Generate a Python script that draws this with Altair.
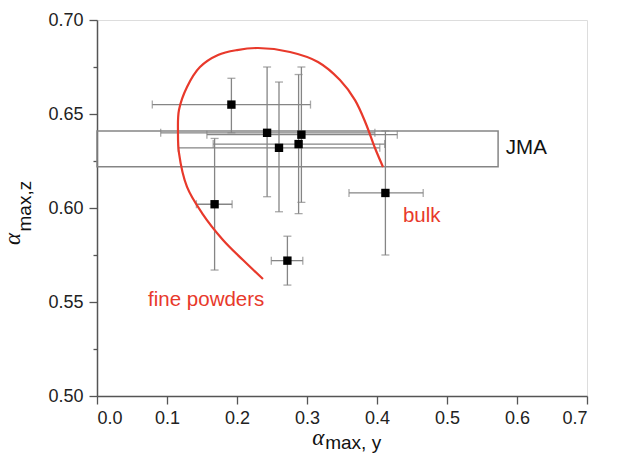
import altair as alt
import pandas as pd

# ---- data ----
px = [0.192, 0.243, 0.260, 0.288, 0.292, 0.168, 0.272, 0.412]
py = [0.655, 0.640, 0.632, 0.634, 0.639, 0.602, 0.572, 0.608]
x_lo = [0.079, 0.091, 0.116, 0.166, 0.157, 0.142, 0.249, 0.360]
x_hi = [0.305, 0.397, 0.404, 0.411, 0.429, 0.193, 0.294, 0.466]
y_lo = [0.640, 0.606, 0.598, 0.597, 0.603, 0.567, 0.559, 0.575]
y_hi = [0.669, 0.675, 0.667, 0.671, 0.675, 0.637, 0.585, 0.641]

curve_x = [0.2371, 0.2086, 0.1800, 0.1500, 0.1286, 0.1171, 0.1157, 0.1171, 0.1286, 0.1471,
           0.1729, 0.2000, 0.2300, 0.2757, 0.3157, 0.3471, 0.3686, 0.3843, 0.3971, 0.4086]
curve_y = [0.5622, 0.5723, 0.5830, 0.5973, 0.6112, 0.6293, 0.6404, 0.6521, 0.6644, 0.6750,
           0.6814, 0.6840, 0.6851, 0.6830, 0.6777, 0.6681, 0.6574, 0.6447, 0.6319, 0.6218]

jma_x = [0.0, 0.573]
jma_y = [0.622, 0.641]

x_ticks = [0.0, 0.05, 0.1, 0.15, 0.2, 0.25, 0.3, 0.35, 0.4, 0.45, 0.5, 0.55, 0.6, 0.65, 0.7]
y_ticks = [0.5, 0.525, 0.55, 0.575, 0.6, 0.625, 0.65, 0.675, 0.7]

left_text = ["JMA", "bulk"]
left_x = [0.584, 0.437]
left_y = [0.632, 0.596]
left_color = ["#111111", "#e8392b"]
center_text = ["fine powders"]
center_x = [0.156]
center_y = [0.551]

# ---- tables ----
pts = pd.DataFrame({"x": px, "y": py, "xlo": x_lo, "xhi": x_hi, "ylo": y_lo, "yhi": y_hi})
curve = pd.DataFrame({"x": curve_x, "y": curve_y, "o": list(range(len(curve_x)))})
box = pd.DataFrame({"x": [jma_x[0]], "x2": [jma_x[1]], "y": [jma_y[0]], "y2": [jma_y[1]]})
ann_l = pd.DataFrame({"t": left_text, "x": left_x, "y": left_y, "c": left_color})
ann_c = pd.DataFrame({"t": center_text, "x": center_x, "y": center_y})

GRAY = "#858585"
RED = "#e8392b"
FONT = "Liberation Sans"

xs = alt.Scale(domain=[0, 0.7], nice=False, zero=False)
ys = alt.Scale(domain=[0.5, 0.7], nice=False, zero=False)

x_axis = alt.Axis(
    values=x_ticks, title=None, grid=False,
    labelExpr="round(datum.value*100) % 10 == 0 ? format(datum.value, '.1f') : ''",
    tickSize={"condition": {"test": "round(datum.value*100) % 10 == 0", "value": 8}, "value": 4},
    labelPadding=5, labelFont=FONT, labelFontSize=18, labelColor="#222",
    domainColor="#555", domainWidth=1.5, tickColor="#555", tickWidth=1.3,
)
y_axis = alt.Axis(
    values=y_ticks, title=None, grid=False,
    labelExpr="round(datum.value*1000) % 50 == 0 ? format(datum.value, '.2f') : ''",
    tickSize={"condition": {"test": "round(datum.value*1000) % 50 == 0", "value": 8}, "value": 4},
    labelPadding=6, labelFont=FONT, labelFontSize=18, labelColor="#222",
    domainColor="#555", domainWidth=1.5, tickColor="#555", tickWidth=1.3,
)

base = alt.Chart(pts)

box_layer = alt.Chart(box).mark_rect(fill=None, stroke=GRAY, strokeWidth=1.5).encode(
    x=alt.X("x:Q", scale=xs, axis=x_axis), x2="x2:Q",
    y=alt.Y("y:Q", scale=ys, axis=y_axis), y2="y2:Q")

vbar = base.mark_rule(color=GRAY, strokeWidth=1.3).encode(
    x=alt.X("x:Q", scale=xs), y=alt.Y("ylo:Q", scale=ys), y2="yhi:Q")
hbar = base.mark_rule(color=GRAY, strokeWidth=1.3).encode(
    y=alt.Y("y:Q", scale=ys), x=alt.X("xlo:Q", scale=xs), x2="xhi:Q")
cap_ylo = base.mark_tick(color=GRAY, orient="horizontal", size=8, thickness=1.3).encode(
    x=alt.X("x:Q", scale=xs), y=alt.Y("ylo:Q", scale=ys))
cap_yhi = base.mark_tick(color=GRAY, orient="horizontal", size=8, thickness=1.3).encode(
    x=alt.X("x:Q", scale=xs), y=alt.Y("yhi:Q", scale=ys))
cap_xlo = base.mark_tick(color=GRAY, orient="vertical", size=8, thickness=1.3).encode(
    x=alt.X("xlo:Q", scale=xs), y=alt.Y("y:Q", scale=ys))
cap_xhi = base.mark_tick(color=GRAY, orient="vertical", size=8, thickness=1.3).encode(
    x=alt.X("xhi:Q", scale=xs), y=alt.Y("y:Q", scale=ys))

curve_layer = alt.Chart(curve).mark_line(color=RED, strokeWidth=2.2,
                                         interpolate="catmull-rom").encode(
    x=alt.X("x:Q", scale=xs), y=alt.Y("y:Q", scale=ys), order="o:Q")

squares = base.mark_square(color="black", opacity=1, size=70).encode(
    x=alt.X("x:Q", scale=xs), y=alt.Y("y:Q", scale=ys))

ann_left = alt.Chart(ann_l).mark_text(font=FONT, fontSize=20.5, baseline="middle",
                                      align="left").encode(
    x=alt.X("x:Q", scale=xs), y=alt.Y("y:Q", scale=ys), text="t:N",
    color=alt.Color("c:N", scale=None))
ann_center = alt.Chart(ann_c).mark_text(font=FONT, fontSize=20.5, baseline="middle",
                                        align="center", color=RED).encode(
    x=alt.X("x:Q", scale=xs), y=alt.Y("y:Q", scale=ys), text="t:N")

# axis titles (alpha with subscript), placed in data coordinates outside the plot
xt = pd.DataFrame({"x": [0.316], "y": [0.4739]})
xt2 = pd.DataFrame({"x": [0.326], "y": [0.4718]})
yt = pd.DataFrame({"x": [-0.110], "y": [0.5835]})
yt2 = pd.DataFrame({"x": [-0.0943], "y": [0.601]})

x_alpha = alt.Chart(xt).mark_text(text="α", font="Liberation Serif", fontStyle="italic",
                                   fontSize=23, align="center", baseline="alphabetic",
                                   color="#111").encode(
    x=alt.X("x:Q", scale=xs), y=alt.Y("y:Q", scale=ys))
x_sub = alt.Chart(xt2).mark_text(text="max, y", font=FONT, fontSize=19, align="left",
                                 baseline="alphabetic", color="#111").encode(
    x=alt.X("x:Q", scale=xs), y=alt.Y("y:Q", scale=ys))
y_alpha = alt.Chart(yt).mark_text(text="α", font="Liberation Serif", fontStyle="italic",
                                   fontSize=23, align="center", baseline="alphabetic",
                                   angle=270, color="#111").encode(
    x=alt.X("x:Q", scale=xs), y=alt.Y("y:Q", scale=ys))
y_sub = alt.Chart(yt2).mark_text(text="max,z", font=FONT, fontSize=19, align="center",
                                 baseline="alphabetic", angle=270, color="#111").encode(
    x=alt.X("x:Q", scale=xs), y=alt.Y("y:Q", scale=ys))

chart = alt.layer(
    box_layer, vbar, hbar, cap_ylo, cap_yhi, cap_xlo, cap_xhi,
    curve_layer, squares, ann_left, ann_center, x_alpha, x_sub, y_alpha, y_sub
).properties(
    width=490, height=376,
    autosize=alt.AutoSizeParams(type="none"),
    padding={"left": 89, "top": 12, "right": 30, "bottom": 57},
).configure_view(stroke="#555", strokeWidth=1.5).configure(background="white")

chart.save("out.html", embed_options={"renderer": "svg", "actions": False})
